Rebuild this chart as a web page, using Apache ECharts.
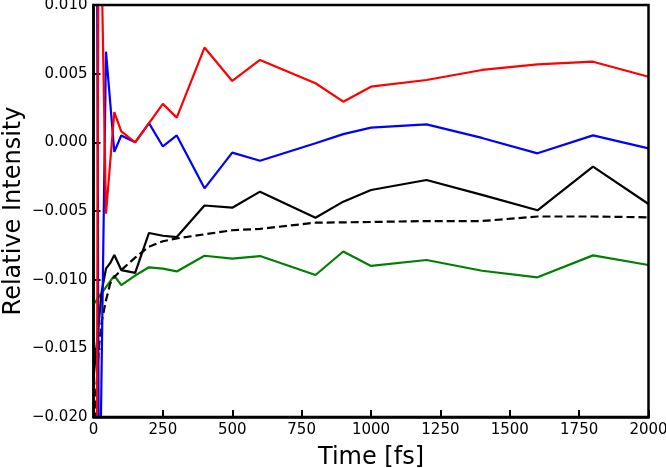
<!DOCTYPE html>
<html>
<head>
<meta charset="utf-8">
<script src="https://cdn.jsdelivr.net/npm/echarts@6/dist/echarts.min.js"></script>
<style>html,body{margin:0;padding:0;background:#fff;}#chart{width:666px;height:468px;}</style>
</head>
<body>
<div id="chart"></div>
<script>
// Time points [fs]
var times = [0, 10, 20, 30, 45, 60, 75, 100, 150, 200, 250, 300, 400, 500, 600, 800, 900, 1000, 1200, 1400, 1600, 1800, 2000];
// Series values (null = no sample drawn at that time)
var redVals   = [null, -0.035, 0.03, 0.012, -0.0052, null, 0.0022, 0.0008, 0.0, null, 0.0028, 0.0018, 0.0069, 0.00447, 0.006, 0.0043, 0.00296, 0.00405, 0.00454, 0.00527, 0.00568, 0.00587, 0.00478];
var blueVals  = [null, 0.03, -0.03, null, 0.0066, null, -0.0007, 0.0005, 0.0, 0.0014, -0.0003, 0.0005, -0.00335, -0.00075, -0.00134, -0.00007, 0.0006, 0.00107, 0.00131, 0.00032, -0.0008, 0.00051, -0.00044];
var blackVals = [-0.0172, null, null, -0.0108, -0.0092, -0.0088, -0.0082, -0.0093, -0.0095, -0.0066, -0.0068, -0.0069, -0.0046, -0.00476, -0.00359, -0.00549, -0.00432, -0.00347, -0.00274, -0.00383, -0.00495, -0.00177, -0.00449];
var dashVals  = [-0.022, -0.018, -0.0148, -0.013, -0.0115, -0.0103, -0.0098, -0.0093, -0.0084, -0.0076, -0.0072, -0.007, -0.0067, -0.0064, -0.0063, -0.00585, null, -0.0058, -0.00573, -0.00573, -0.0054, -0.0054, -0.00546];
var greenVals = [-0.0118, null, null, null, null, null, -0.0097, -0.0104, -0.0097, -0.0091, -0.0092, -0.0094, -0.00826, -0.00847, -0.00828, -0.00966, -0.00795, -0.009, -0.00857, -0.00935, -0.00983, -0.00823, -0.00893];
var xTicks = [0, 250, 500, 750, 1000, 1250, 1500, 1750, 2000];
var yTicks = [-0.020, -0.015, -0.010, -0.005, 0.000, 0.005, 0.010];

function pairs(vals) {
  var out = [];
  for (var i = 0; i < times.length; i++) {
    if (vals[i] !== null) out.push([times[i], vals[i]]);
  }
  return out;
}
var FONT = 'DejaVu Sans';
function mk(name, vals, color, dashed, z) {
  return {
    name: name, type: 'line', data: pairs(vals), showSymbol: false, symbol: 'none',
    z: z, clip: true, animation: false,
    lineStyle: { color: color, width: 2.2, type: dashed ? [8, 4] : 'solid' }
  };
}
var chart = echarts.init(document.getElementById('chart'), null, { renderer: 'canvas' });
chart.setOption({
  backgroundColor: '#ffffff',
  animation: false,
  grid: { left: 93.5, right: 17.5, top: 5, bottom: 51, containLabel: false, outerBoundsMode: 'none',
    show: true, borderColor: '#000', borderWidth: 2.5, backgroundColor: 'transparent', z: 10 },
  xAxis: {
    type: 'value', min: 0, max: 2000, interval: 250,
    name: 'Time [fs]', nameLocation: 'middle', nameGap: 29, nameMoveOverlap: false,
    nameTextStyle: { fontFamily: FONT, fontSize: 24, color: '#000' },
    axisLine: { show: true, onZero: false, lineStyle: { color: '#000', width: 2.5 } },
    axisTick: { show: true, inside: true, length: 7, lineStyle: { color: '#000', width: 2 } },
    axisLabel: { fontFamily: FONT, fontSize: 15, color: '#000', margin: 6,
      formatter: function (v) { return xTicks.indexOf(v) >= 0 ? String(v) : ''; } },
    splitLine: { show: false }
  },
  yAxis: {
    type: 'value', min: -0.02, max: 0.01, interval: 0.005,
    name: 'Relative Intensity', nameLocation: 'middle', nameGap: 68, nameMoveOverlap: false,
    nameTextStyle: { fontFamily: FONT, fontSize: 24, color: '#000' },
    axisLine: { show: true, onZero: false, lineStyle: { color: '#000', width: 2.5 } },
    axisTick: { show: true, inside: true, length: 7, lineStyle: { color: '#000', width: 2 } },
    axisLabel: { fontFamily: FONT, fontSize: 15, color: '#000', margin: 6,
      formatter: function (v) {
        var r = Math.round(v * 1000) / 1000;
        var s = Math.abs(r).toFixed(3);
        return (r < 0 ? '\u2212' : '') + s;
      } },
    splitLine: { show: false }
  },
  series: [
    mk('green', greenVals, '#008000', false, 2),
    mk('dashed', dashVals, '#000000', true, 3),
    mk('black', blackVals, '#000000', false, 4),
    mk('blue', blueVals, '#0000ff', false, 5),
    mk('red', redVals, '#ff0000', false, 6)
  ]
});
</script>
</body>
</html>
